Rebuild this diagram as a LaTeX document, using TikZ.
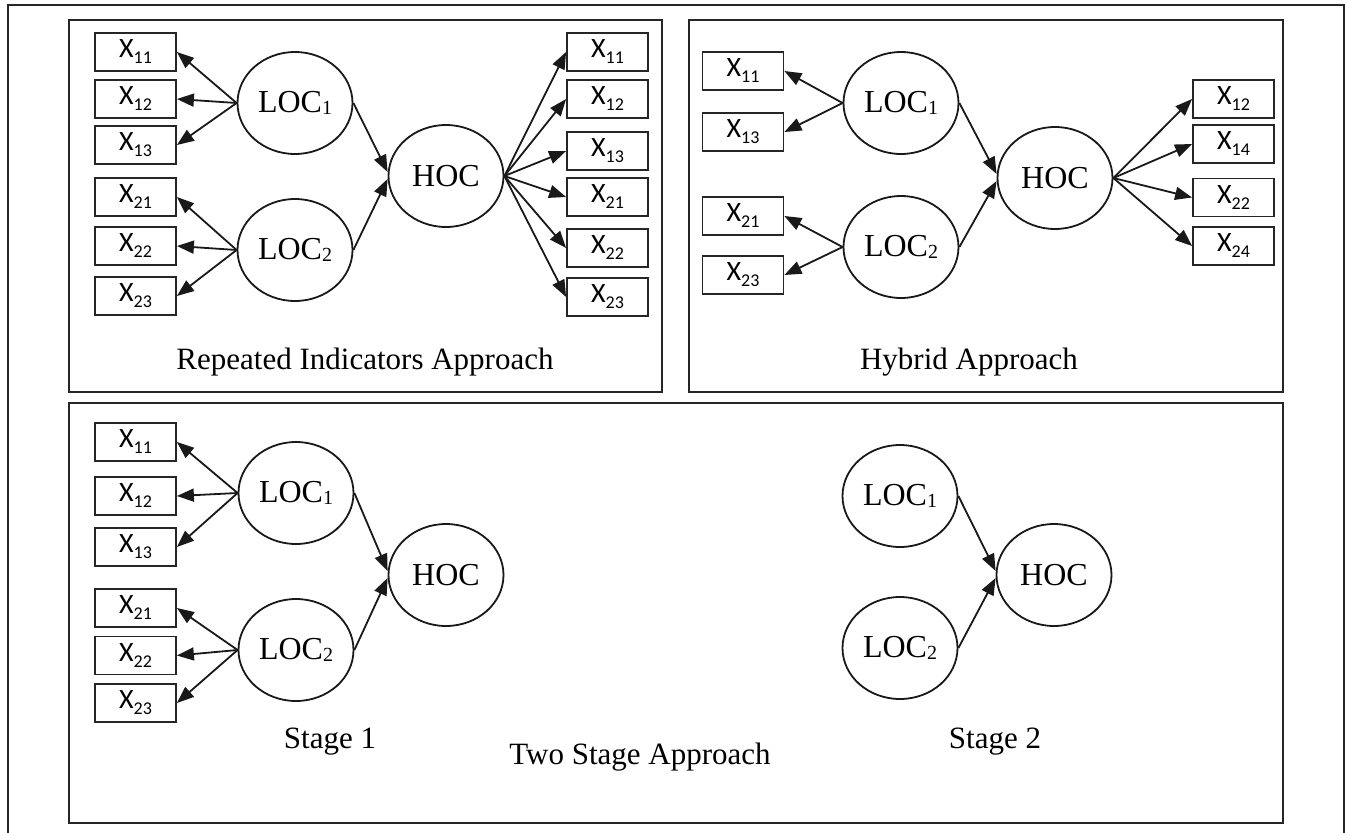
\documentclass[tikz,border=0pt]{standalone}
\usepackage{fontspec}
\setmainfont{Liberation Serif}
\newfontfamily\xfont{Carlito}
\usetikzlibrary{shapes.geometric,arrows.meta}
\tikzset{
  panel/.style={draw=black!85, line width=2.6pt},
  ind/.style={draw=black!85, line width=1.8pt, minimum width=81pt, minimum height=38pt, inner sep=0pt, font=\xfont\fontsize{28}{28}\selectfont},
  lat/.style={draw=black!90, line width=1.8pt, ellipse, minimum width=115pt, minimum height=102pt, inner sep=0pt, font=\fontsize{32}{32}\selectfont},
  conn/.style={line width=1.8pt, draw=black!90, -{Triangle[length=17pt,width=13pt]}},
  lbl/.style={font=\fontsize{31}{31}\selectfont, inner sep=0pt}
}
\newcommand{\xv}[1]{X\raisebox{-6pt}{\fontsize{18}{18}\selectfont #1}}
\newcommand{\lv}[1]{LOC\raisebox{-2pt}{\fontsize{20}{20}\selectfont #1}}
\begin{document}
\begin{tikzpicture}[x=1pt,y=-1pt]
\useasboundingbox (0,0) rectangle (1345,833);
% outer frame
\draw[line width=1.4pt, black!85] (8,833) -- (8,5) -- (1344,5) -- (1344,833);
% panels
\draw[panel] (69,20) rectangle (662,392);
\draw[panel] (689,20) rectangle (1283,392);
\draw[panel] (69,403) rectangle (1283,823);

% ---------- Panel A: Repeated indicators ----------
\node[ind] (a11) at (135.5,52) {\xv{11}};
\node[ind] (a12) at (135.5,99) {\xv{12}};
\node[ind] (a13) at (135.5,145) {\xv{13}};
\node[ind] (a21) at (135.5,197) {\xv{21}};
\node[ind] (a22) at (135.5,246) {\xv{22}};
\node[ind] (a23) at (135.5,296) {\xv{23}};
\node[lat] (aL1) at (295,103) {\lv{1}};
\node[lat] (aL2) at (295,250) {\lv{2}};
\node[lat] (aH) at (446,176) {HOC};
\node[ind] (ar11) at (607.5,52) {\xv{11}};
\node[ind] (ar12) at (607.5,99) {\xv{12}};
\node[ind] (ar13) at (607.5,151) {\xv{13}};
\node[ind] (ar21) at (607.5,197) {\xv{21}};
\node[ind] (ar22) at (607.5,248) {\xv{22}};
\node[ind] (ar23) at (607.5,297) {\xv{23}};
\node[lbl] (aT) at (365,362) {Repeated Indicators Approach};
\foreach \b in {a11,a12,a13} \draw[conn] (aL1.west) -- (\b.east);
\foreach \b in {a21,a22,a23} \draw[conn] (aL2.west) -- (\b.east);
\draw[conn] (aL1.east) -- ([yshift=4pt]aH.west);
\draw[conn] (aL2.east) -- ([yshift=-3pt]aH.west);
\foreach \b in {ar11,ar12,ar13,ar21,ar22,ar23} \draw[conn] (aH.east) -- (\b.west);

% ---------- Panel B: Hybrid ----------
\node[ind] (b11) at (743,71) {\xv{11}};
\node[ind] (b13) at (743,132) {\xv{13}};
\node[ind] (b21) at (743,216) {\xv{21}};
\node[ind] (b23) at (743,275) {\xv{23}};
\node[lat] (bL1) at (901,103) {\lv{1}};
\node[lat] (bL2) at (901,247) {\lv{2}};
\node[lat] (bH) at (1055,178) {HOC};
\node[ind] (br12) at (1233.5,99) {\xv{12}};
\node[ind] (br14) at (1233.5,144) {\xv{14}};
\node[ind] (br22) at (1233.5,197.5) {\xv{22}};
\node[ind] (br24) at (1233.5,246) {\xv{24}};
\node[lbl] (bT) at (969,362) {Hybrid Approach};
\foreach \b in {b11,b13} \draw[conn] (bL1.west) -- (\b.east);
\foreach \b in {b21,b23} \draw[conn] (bL2.west) -- (\b.east);
\draw[conn] (bL1.east) -- ([yshift=4pt]bH.west);
\draw[conn] (bL2.east) -- ([yshift=-3pt]bH.west);
\foreach \b in {br12,br14,br22,br24} \draw[conn] (bH.east) -- (\b.west);

% ---------- Panel C: Two stage ----------
\node[ind] (c11) at (135.5,442) {\xv{11}};
\node[ind] (c12) at (135.5,496) {\xv{12}};
\node[ind] (c13) at (135.5,547) {\xv{13}};
\node[ind] (c21) at (135.5,608) {\xv{21}};
\node[ind] (c22) at (135.5,655.5) {\xv{22}};
\node[ind] (c23) at (135.5,703) {\xv{23}};
\node[lat] (cL1) at (296,493) {\lv{1}};
\node[lat] (cL2) at (296,650) {\lv{2}};
\node[lat] (cH) at (446,575) {HOC};
\node[lbl] (cS1) at (330,742) {Stage 1};
\foreach \b in {c11,c12,c13} \draw[conn] (cL1.west) -- (\b.east);
\foreach \b in {c21,c22,c23} \draw[conn] (cL2.west) -- (\b.east);
\draw[conn] (cL1.east) -- ([yshift=4pt]cH.west);
\draw[conn] (cL2.east) -- ([yshift=-3pt]cH.west);

\node[lat] (dL1) at (900,496) {\lv{1}};
\node[lat] (dL2) at (900,648) {\lv{2}};
\node[lat] (dH) at (1054,575) {HOC};
\node[lbl] (dS2) at (995,742) {Stage 2};
\draw[conn] (dL1.east) -- ([yshift=4pt]dH.west);
\draw[conn] (dL2.east) -- ([yshift=-3pt]dH.west);

\node[lbl] (cT) at (640,757) {Two Stage Approach};
\end{tikzpicture}
\end{document}
